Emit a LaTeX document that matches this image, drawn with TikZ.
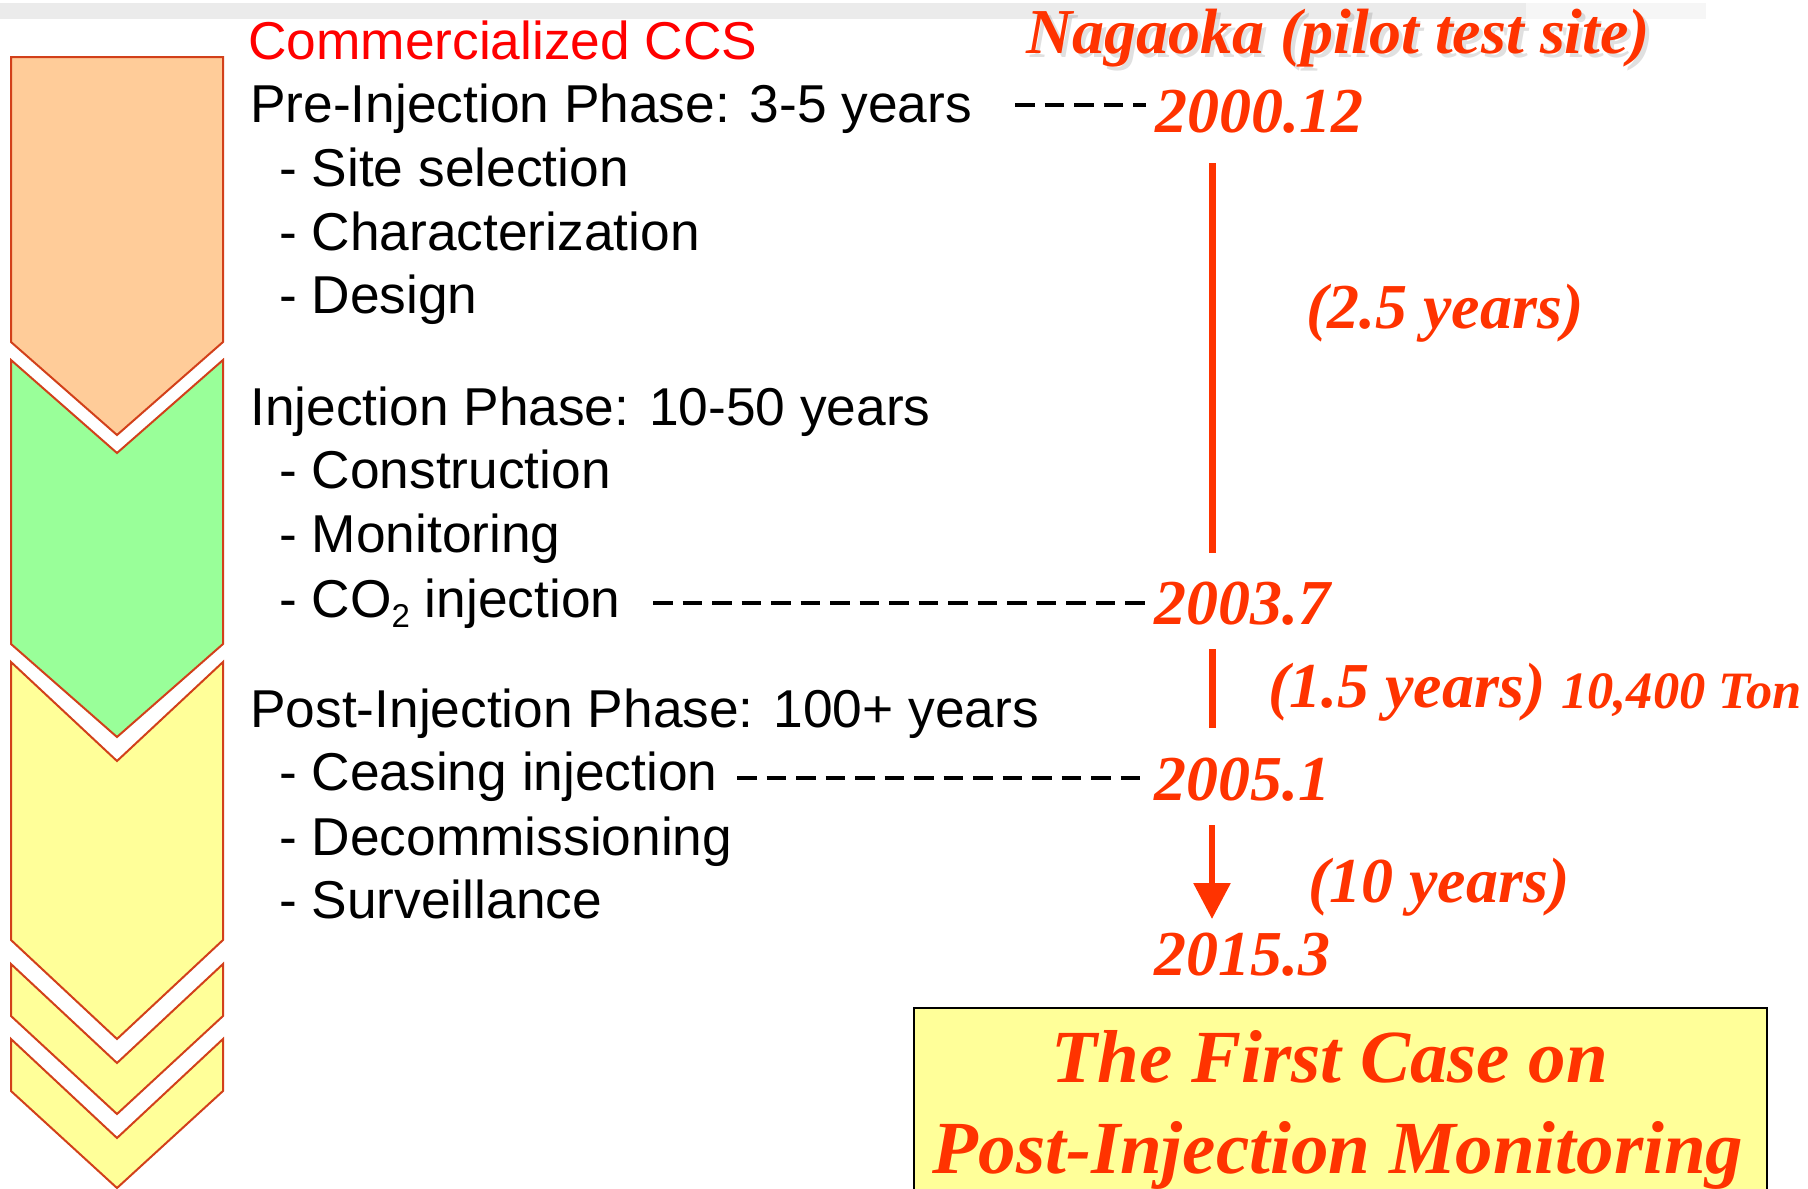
\documentclass[tikz,border=0pt]{standalone}
\usepackage{fontspec}
\setmainfont{Liberation Sans}
\newfontfamily\tnr{Liberation Serif}
\usetikzlibrary{arrows.meta}
\definecolor{ccsred}{HTML}{FF3300}
\definecolor{brightred}{HTML}{FF0000}
\definecolor{chevline}{HTML}{D2401A}
\definecolor{peach}{HTML}{FFCC99}
\definecolor{mint}{HTML}{99FF99}
\definecolor{lemon}{HTML}{FFFF99}
\definecolor{barA}{HTML}{EBEBEB}
\definecolor{barB}{HTML}{F6F6F6}
\begin{document}
\begin{tikzpicture}[x=1pt,y=-1pt,
  blk/.style={anchor=base west,inner sep=0pt,font=\fontsize{53.3}{60}\selectfont},
  datetxt/.style={anchor=base west,inner sep=0pt,text=ccsred,font=\tnr\bfseries\itshape\fontsize{64}{70}\selectfont},
  boxtxt/.style={anchor=base,inner sep=0pt,text=ccsred,font=\tnr\bfseries\itshape\fontsize{75}{80}\selectfont},
  chev/.style={draw=chevline,line width=2pt,line join=miter},
  dashline/.style={line width=4pt,dash pattern=on 19.5pt off 10pt},
  redline/.style={draw=ccsred,line width=7pt},
]
\useasboundingbox (0,0) rectangle (1808,1189);
% top gray bar
\fill[barA] (0,3) rectangle (1526,19);
\fill[barB] (1526,3) rectangle (1706,19);

% chevrons
\draw[chev,fill=peach] (11,57) -- (223,57) -- (223,342) -- (117,435) -- (11,342) -- cycle;
\draw[chev,fill=mint] (11,360) -- (117,453) -- (223,360) -- (223,644) -- (117,737) -- (11,644) -- cycle;
\draw[chev,fill=lemon] (11,662) -- (117,761) -- (223,662) -- (223,940) -- (117,1039) -- (11,940) -- cycle;
\draw[chev,fill=lemon] (11,964) -- (117,1063) -- (223,964) -- (223,1016) -- (117,1114) -- (11,1016) -- cycle;
\draw[chev,fill=lemon] (11,1039) -- (117,1138) -- (223,1039) -- (223,1091) -- (117,1188) -- (11,1091) -- cycle;

% left texts
\node[blk,text=brightred] (ccs) at (248,59) {Commercialized CCS};
\node[blk] (pre) at (250,122) {Pre-Injection Phase: 3-5 years};
\node[blk] (site) at (279,186) {- Site selection};
\node[blk] (char) at (279,250) {- Characterization};
\node[blk] (design) at (279,313) {- Design};
\node[blk] (inj) at (250,425) {Injection Phase: 10-50 years};
\node[blk] (cons) at (279,488) {- Construction};
\node[blk] (moni) at (279,552) {- Monitoring};
\node[blk] (co2) at (279,617) {- CO\raisebox{-0.2em}{\fontsize{33}{33}\selectfont 2} injection};
\node[blk] (post) at (250,727) {Post-Injection Phase: 100+ years};
\node[blk] (ceas) at (279,790) {- Ceasing injection};
\node[blk] (decom) at (279,855) {- Decommissioning};
\node[blk] (surv) at (279,918) {- Surveillance};

% right: Nagaoka timeline
\node[datetxt,text=black,opacity=0.12] (nagshadow) at (1030,57) {Nagaoka (pilot test site)};
\node[datetxt] (nag) at (1026,53) {Nagaoka (pilot test site)};
\node[datetxt] (d2000) at (1155,132) {2000.12};
\node[datetxt] (y25) at (1306,328) {(2.5 years)};
\node[datetxt] (d2003) at (1154,624) {2003.7};
\node[datetxt] (y15) at (1268,707) {(1.5 years)};
\node[datetxt,font=\tnr\bfseries\itshape\fontsize{52.5}{60}\selectfont] (ton) at (1561,708) {10,400 Ton};
\node[datetxt] (d2005) at (1154,800) {2005.1};
\node[datetxt] (y10) at (1308,902) {(10 years)};
\node[datetxt] (d2015) at (1154,975) {2015.3};

% dashed connectors
\coordinate (dpre) at (1015,105);
\coordinate (dpreE) at (1146,105);
\coordinate (dco2) at (653,603);
\coordinate (dco2E) at (1146,603);
\coordinate (dceas) at (737,778);
\coordinate (dceasE) at (1146,778);
\draw[dashline] (dpre) -- (dpreE);
\draw[dashline] (dco2) -- (dco2E);
\draw[dashline] (dceas) -- (dceasE);

% red vertical lines
\coordinate (l1a) at (1212,163);
\coordinate (l1b) at (1212,553);
\coordinate (l2a) at (1212,649);
\coordinate (l2b) at (1212,728);
\coordinate (l3a) at (1212,825);
\coordinate (l3b) at (1212,919);
\draw[redline] (l1a) -- (l1b);
\draw[redline] (l2a) -- (l2b);
\draw[redline,line width=6pt,-{Triangle[width=36pt,length=36pt]}] (l3a) -- (l3b);

% bottom box
\fill[lemon] (914,1008) rectangle (1767,1195);
\draw[line width=2.5pt] (914,1195) -- (914,1008) -- (1767,1008) -- (1767,1195);
\node[boxtxt] (first) at (1330,1082) {The First Case on};
\node[boxtxt] (pim) at (1338,1173) {Post-Injection Monitoring};
\end{tikzpicture}
\end{document}
